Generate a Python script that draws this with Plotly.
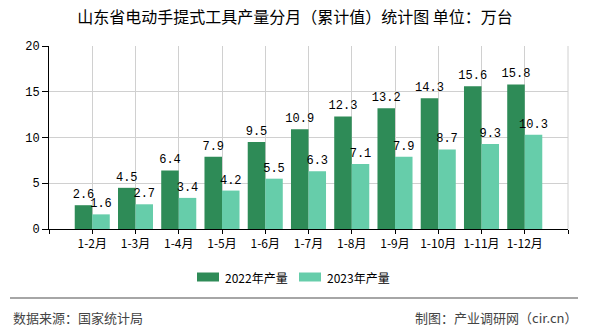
import plotly.graph_objects as go

categories = ["1-2月", "1-3月", "1-4月", "1-5月", "1-6月", "1-7月", "1-8月", "1-9月", "1-10月", "1-11月", "1-12月"]
values_2022 = [2.6, 4.5, 6.4, 7.9, 9.5, 10.9, 12.3, 13.2, 14.3, 15.6, 15.8]
values_2023 = [1.6, 2.7, 3.4, 4.2, 5.5, 6.3, 7.1, 7.9, 8.7, 9.3, 10.3]
series_names = ["2022年产量", "2023年产量"]
colors = ["#2e8b57", "#66cdaa"]
y_ticks = [0, 5, 10, 15, 20]

CJK = "Noto Sans CJK SC, Noto Sans, sans-serif"
MONO = "Liberation Mono, DejaVu Sans Mono, monospace"

x_pos = list(range(len(categories)))

fig = go.Figure()
for name, vals, col in zip(series_names, [values_2022, values_2023], colors):
    fig.add_trace(go.Bar(
        x=x_pos, y=vals, name=name, marker=dict(color=col, line=dict(width=0)),
        text=[f"{v:.1f}" for v in vals], textposition="outside",
        constraintext="none",
        textfont=dict(family=MONO, size=12, color="#000"),
        cliponaxis=False, showlegend=False,
    ))

L, R, T, B = 49, 22, 46, 101
W, H = 590, 330
pw, ph = W - L - R, H - T - B

def px(xp):
    return (xp - L) / pw

def py(yp):
    return (H - B - yp) / ph

tickvals = list(range(-1, len(categories) + 1))
ticktext = [""] + categories + [""]

fig.update_layout(
    width=W, height=H,
    margin=dict(l=L, r=R, t=T, b=B, pad=0),
    paper_bgcolor="white", plot_bgcolor="white",
    barmode="group", bargap=0.19, bargroupgap=0,
    title=dict(text="山东省电动手提式工具产量分月（累计值）统计图 单位：万台",
               x=0.5, xanchor="center", y=1 - 17 / H, yanchor="middle",
               font=dict(family=CJK, size=16, color="#000")),
    xaxis=dict(range=[-1, len(categories)], tickmode="array", tickvals=tickvals, ticktext=ticktext,
               showgrid=True, gridcolor="#d0d0d0", gridwidth=1,
               showline=True, linecolor="#000", linewidth=1,
               ticks="outside", ticklen=4, tickcolor="#000",
               tickfont=dict(family=CJK, size=12, color="#000"), zeroline=False),
    yaxis=dict(range=[0, 20], tickmode="array", tickvals=y_ticks,
               showgrid=True, gridcolor="#d0d0d0", gridwidth=1,
               showline=True, linecolor="#000", linewidth=1,
               ticks="outside", ticklen=6, tickcolor="#000",
               tickfont=dict(family=MONO, size=12, color="#000"), zeroline=False),
    showlegend=False,
)

# right border gridline
fig.add_shape(type="line", xref="paper", yref="paper", x0=1, x1=1, y0=0, y1=1,
              line=dict(color="#d0d0d0", width=1), layer="below")

# legend (custom swatches)
leg_y = py(277)
for (x0, x1, tx), name, col in zip([(197, 219, 223), (299, 321, 325)], series_names, colors):
    fig.add_shape(type="rect", xref="paper", yref="paper",
                  x0=px(x0), x1=px(x1), y0=py(281.5), y1=py(272.5),
                  fillcolor=col, line=dict(width=0))
    fig.add_annotation(xref="paper", yref="paper", x=px(tx), y=leg_y, text=name,
                       showarrow=False, xanchor="left", yanchor="middle",
                       font=dict(family=CJK, size=12, color="#000"))

# footer line and texts
fig.add_shape(type="line", xref="paper", yref="paper", x0=px(10), x1=px(578), y0=py(298), y1=py(298),
              line=dict(color="#888", width=1.5))
fig.add_annotation(xref="paper", yref="paper", x=px(11), y=py(317), text="数据来源：国家统计局",
                   showarrow=False, xanchor="left", yanchor="middle",
                   font=dict(family=CJK, size=13, color="#444"))
fig.add_annotation(xref="paper", yref="paper", x=px(579), y=py(317), text="制图：产业调研网（cir.cn）",
                   showarrow=False, xanchor="right", yanchor="middle",
                   font=dict(family=CJK, size=13, color="#444"))

fig.write_html("out.html")
